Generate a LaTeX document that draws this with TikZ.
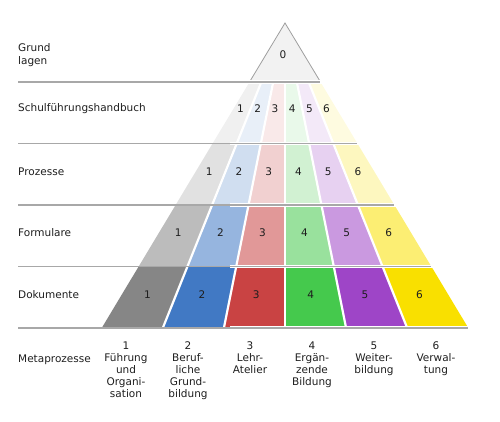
\documentclass[tikz,border=0pt]{standalone}
\usepackage{fontspec}
\setmainfont{DejaVu Sans}
\usepackage{xcolor}
\usepackage{tikz}

\definecolor{mpGray}{HTML}{868686}
\definecolor{mpBlue}{HTML}{4179C4}
\definecolor{mpRed}{HTML}{C94343}
\definecolor{mpGreen}{HTML}{45C94D}
\definecolor{mpViolet}{HTML}{9E45C7}
\definecolor{mpYellow}{HTML}{F9E000}
\definecolor{ruleGray}{HTML}{A8A8A8}
\definecolor{topFill}{HTML}{F2F2F2}
\definecolor{topLine}{HTML}{9E9E9E}
\definecolor{labelText}{HTML}{1E1E1E}

\begin{document}
\begin{tikzpicture}[
  x=1pt, y=-1pt,
  every node/.style={font=\fontsize{10.5}{11.8}\selectfont, text=labelText,
    inner sep=0pt},
  rowlabel/.style={anchor=west, align=left},
  metalabel/.style={anchor=north, align=center},
  gapline/.style={white, line width=2.2pt},
  gapband/.style={white, line width=3.4pt},
  bandrule/.style={ruleGray, line width=1.1pt}
]
\useasboundingbox (0,0) rectangle (500,422);

% coloured cells of the pyramid (4 bands x 6 metaprocesses)
\foreach \b/\pct in {1/12,2/25,3/55,4/100} {
  \pgfmathsetmacro\ya{82+61.5*(\b-1)}
  \pgfmathsetmacro\yb{82+61.5*\b}
  \foreach \i/\cn in {1/mpGray,2/mpBlue,3/mpRed,4/mpGreen,5/mpViolet,6/mpYellow} {
    \pgfmathsetmacro\xal{285+(2*(\i-1)/6-1)*0.601*(\ya-23)}
    \pgfmathsetmacro\xar{285+(2*\i/6-1)*0.601*(\ya-23)}
    \pgfmathsetmacro\xbl{285+(2*(\i-1)/6-1)*0.601*(\yb-23)}
    \pgfmathsetmacro\xbr{285+(2*\i/6-1)*0.601*(\yb-23)}
    \fill[\cn!\pct!white] (\xal,\ya) -- (\xar,\ya) -- (\xbr,\yb) -- (\xbl,\yb) -- cycle;
  }
}

% white gaps between the columns
\foreach \i in {1,...,5} {
  \pgfmathsetmacro\xa{285+(2*\i/6-1)*0.601*(82-23)}
  \pgfmathsetmacro\xb{285+(2*\i/6-1)*0.601*(328-23)}
  \draw[gapline] (\xa,82) -- (\xb,328);
}

% top triangle
\draw[topLine, fill=topFill, line width=0.8pt, line join=miter]
  (285,23) -- (249.5,82) -- (320.5,82) -- cycle;

% band rules
\foreach \y in {82,143.5,205,266.5,328} {
  \pgfmathsetmacro\xr{285+0.601*(\y-23)}
  \draw[gapband] (230,\y) -- (\xr+3,\y);
  \draw[bandrule] (18,\y) -- (\xr,\y);
}

% numbers in the cells
\node (n0) at (283,55) {0};
\foreach \b/\ly in {1/109,2/171.5,3/233,4/294.5} {
  \foreach \i in {1,...,6} {
    \pgfmathsetmacro\xn{285+((2*\i-1)/6-1)*0.601*(\ly-23)-1.5}
    \node (n\b\i) at (\xn,\ly) {\i};
  }
}

% row labels
\node[rowlabel, font=\fontsize{10.5}{13.5}\selectfont] (grundlagen) at (18,55) {Grund\\lagen};
\node[rowlabel] (handbuch) at (18,109) {Schulführungshandbuch};
\node[rowlabel] (prozesse) at (18,171.5) {Prozesse};
\node[rowlabel] (formulare) at (18,233) {Formulare};
\node[rowlabel] (dokumente) at (18,294.5) {Dokumente};
\node[rowlabel] (metaprozesse) at (18,360) {Metaprozesse};

% metaprocess labels
\node[metalabel] (mp1) at (126,342) {1\\Führung\\und\\Organi-\\sation};
\node[metalabel] (mp2) at (188,342) {2\\Beruf-\\liche\\Grund-\\bildung};
\node[metalabel] (mp3) at (250,342) {3\\Lehr-\\Atelier};
\node[metalabel] (mp4) at (312,342) {4\\Ergän-\\zende\\Bildung};
\node[metalabel] (mp5) at (374,342) {5\\Weiter-\\bildung};
\node[metalabel] (mp6) at (436,342) {6\\Verwal-\\tung};

\end{tikzpicture}
\end{document}
